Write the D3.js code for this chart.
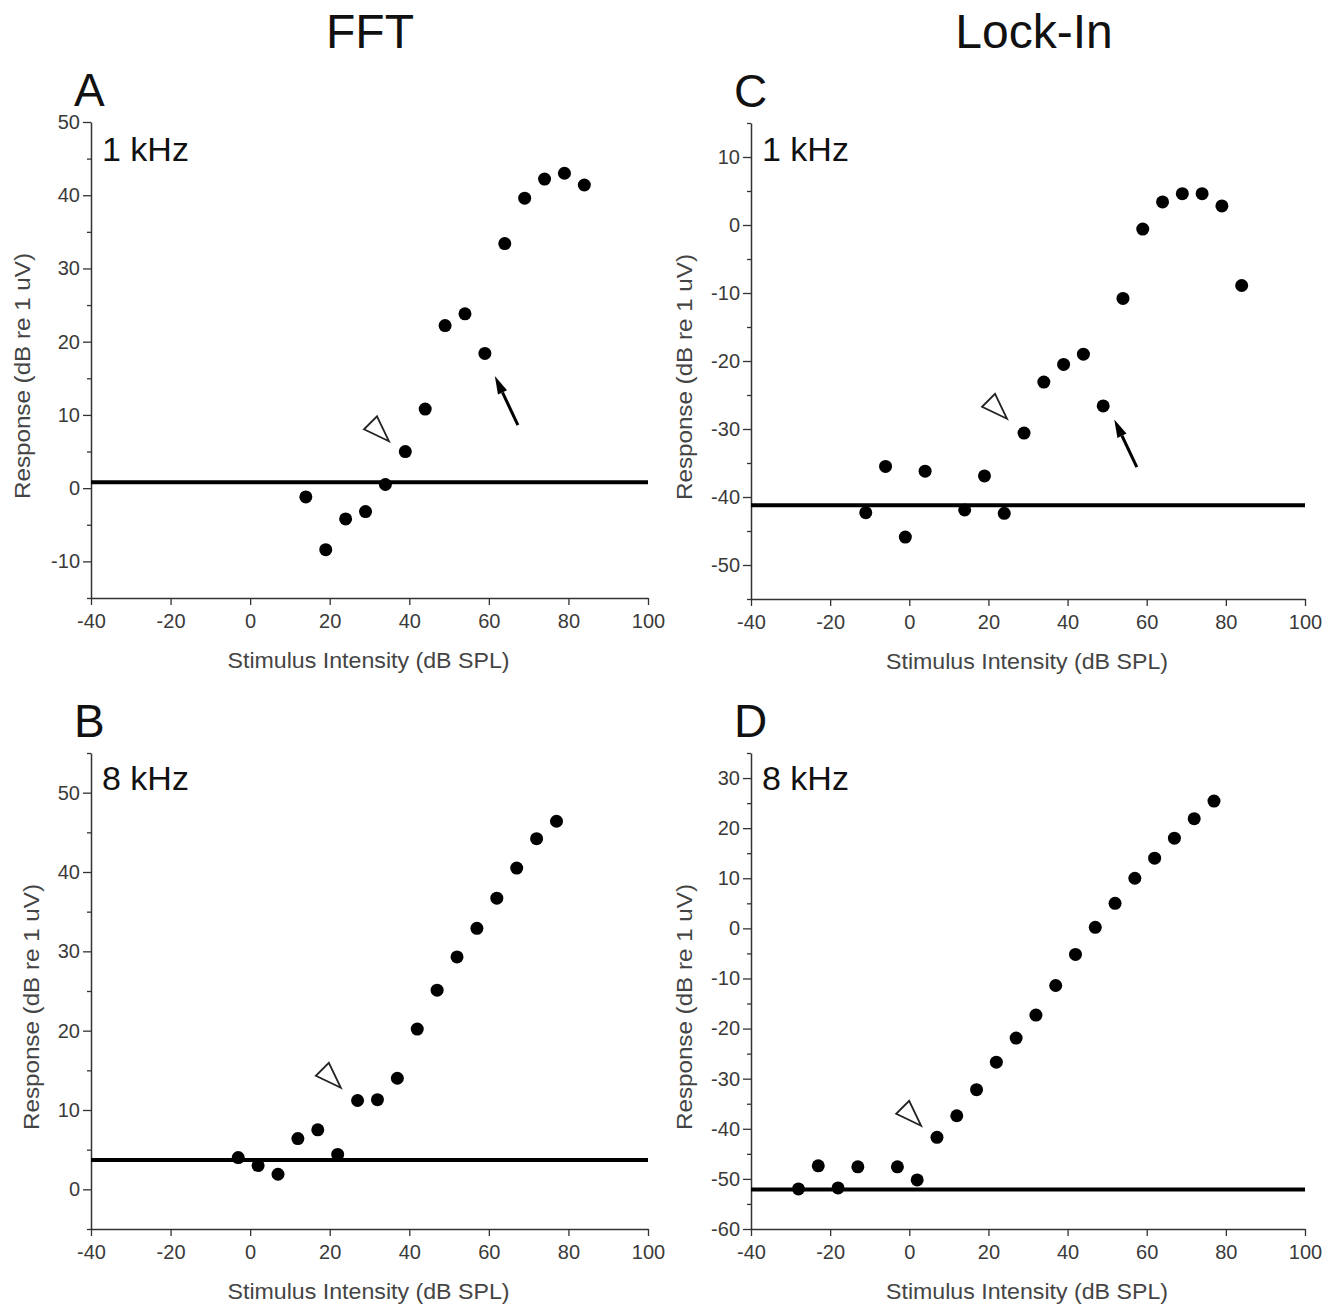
<!DOCTYPE html>
<html>
<head>
<meta charset="utf-8">
<script src="https://cdn.jsdelivr.net/npm/d3@7"></script>
<style>
  body { margin: 0; background: #fff; }
  svg { display: block; font-family: "Liberation Sans", Arial, sans-serif; }
</style>
</head>
<body>
<div id="chart"></div>
<script>
// ---- data ----
const xTicks = [-40, -20, 0, 20, 40, 60, 80, 100];

// A: FFT, 1 kHz
const fft1kX = [14, 19, 24, 29, 34, 39, 44, 49, 54, 59, 64, 69, 74, 79, 84];
const fft1kY = [-1.2, -8.4, -4.2, -3.2, 0.5, 5.0, 10.8, 22.2, 23.8, 18.4, 33.4, 39.6, 42.2, 43.0, 41.4];
// B: FFT, 8 kHz
const fft8kX = [-3, 2, 7, 12, 17, 22, 27, 32, 37, 42, 47, 52, 57, 62, 67, 72, 77];
const fft8kY = [4.0, 3.0, 1.9, 6.4, 7.5, 4.4, 11.2, 11.3, 14.0, 20.2, 25.1, 29.3, 32.9, 36.7, 40.5, 44.2, 46.4];
// C: Lock-In, 1 kHz
const lock1kX = [-11, -6, -1, 4, 14, 19, 24, 29, 34, 39, 44, 49, 54, 59, 64, 69, 74, 79, 84];
const lock1kY = [-42.3, -35.5, -45.9, -36.2, -41.9, -36.9, -42.4, -30.6, -23.1, -20.5, -19.0, -26.6, -10.8, -0.6, 3.4, 4.6, 4.6, 2.8, -8.9];
// D: Lock-In, 8 kHz
const lock8kX = [-28, -23, -18, -13, -3, 2, 7, 12, 17, 22, 27, 32, 37, 42, 47, 52, 57, 62, 67, 72, 77];
const lock8kY = [-52.0, -47.4, -51.8, -47.6, -47.6, -50.2, -41.7, -37.4, -32.2, -26.7, -21.9, -17.3, -11.4, -5.2, 0.2, 5.0, 10.0, 14.0, 18.0, 21.9, 25.4];

// noise floor (horizontal line) per panel A, B, C, D
const noiseFloor = [0.8, 3.7, -41.2, -52.1];
// y domains per panel
const yDomains = [[-15, 50], [-5, 55], [-55, 15], [-60, 35]];
const yMajorTicks = [
  [-10, 0, 10, 20, 30, 40, 50],
  [0, 10, 20, 30, 40, 50],
  [-50, -40, -30, -20, -10, 0, 10],
  [-60, -50, -40, -30, -20, -10, 0, 10, 20, 30]
];
// open triangle tip (x, y in data units)
const triangleTips = [[34.9, 6.4], [22.8, 12.8], [24.7, -28.5], [3.0, -39.4]];
// arrows [tailX, tailY, tipX, tipY], only in the 1 kHz panels
const arrows = [[67.3, 8.6, 61.5, 15.3], null, [57.5, -35.6, 51.8, -28.6], null];

const letters = ["A", "B", "C", "D"];
const freqs = ["1 kHz", "8 kHz", "1 kHz", "8 kHz"];
const columnTitles = ["FFT", "Lock-In"];

// ---- layout ----
const width = 1343, height = 1305;
const boxes = [
  { x0: 91, x1: 648, y0: 122, y1: 598 },
  { x0: 91, x1: 648, y0: 753, y1: 1229 },
  { x0: 751, x1: 1305, y0: 123, y1: 599 },
  { x0: 751, x1: 1305, y0: 753, y1: 1229 }
];
const yLabelX = [22, 31, 684, 684];
const series = [[fft1kX, fft1kY], [fft8kX, fft8kY], [lock1kX, lock1kY], [lock8kX, lock8kY]];
const plain = d => String(d); // hyphen minus, as in the original

const svg = d3.select('#chart').append('svg')
  .attr('width', width)
  .attr('height', height);

svg.append('rect').attr('width', width).attr('height', height).attr('fill', '#fff');

// column titles
svg.selectAll('.coltitle')
  .data(columnTitles)
  .enter()
  .append('text')
  .attr('class', 'coltitle')
  .attr('x', (d, i) => i === 0 ? 370 : 1034)
  .attr('y', 48)
  .attr('text-anchor', 'middle')
  .style('font-size', '48px')
  .style('fill', '#111')
  .text(d => d);

boxes.forEach((b, p) => {
  const x = d3.scaleLinear().domain([-40, 100]).range([b.x0, b.x1]);
  const y = d3.scaleLinear().domain(yDomains[p]).range([b.y1, b.y0]);
  const g = svg.append('g');

  // minor y ticks (every 5)
  const minor = d3.range(yDomains[p][0], yDomains[p][1] + 0.1, 5)
    .filter(v => yMajorTicks[p].indexOf(v) < 0);
  g.append('g')
    .attr('transform', `translate(${b.x0},0)`)
    .call(d3.axisLeft(y).tickValues(minor).tickSize(4).tickFormat(''))
    .call(a => a.select('.domain').remove())
    .call(a => a.selectAll('line').attr('stroke', '#333').attr('stroke-width', 1.3));

  // y axis
  g.append('g')
    .attr('transform', `translate(${b.x0},0)`)
    .call(d3.axisLeft(y).tickValues(yMajorTicks[p]).tickFormat(plain)
      .tickSize(8).tickSizeOuter(0).tickPadding(3))
    .call(a => a.select('.domain').attr('stroke', '#333').attr('stroke-width', 1.5))
    .call(a => a.selectAll('line').attr('stroke', '#333').attr('stroke-width', 1.3))
    .call(a => a.selectAll('text').style('font-size', '20px').style('fill', '#3a3a3a')
      .style('font-family', '"Liberation Sans", Arial, sans-serif'));

  // x axis
  g.append('g')
    .attr('transform', `translate(0,${b.y1})`)
    .call(d3.axisBottom(x).tickValues(xTicks).tickFormat(plain)
      .tickSize(7).tickSizeOuter(0).tickPadding(9))
    .call(a => a.select('.domain').attr('stroke', '#333').attr('stroke-width', 1.5))
    .call(a => a.selectAll('line').attr('stroke', '#333').attr('stroke-width', 1.3))
    .call(a => a.selectAll('text').style('font-size', '20px').style('fill', '#3a3a3a')
      .style('font-family', '"Liberation Sans", Arial, sans-serif'));

  // axis titles
  g.append('text')
    .attr('x', (b.x0 + b.x1) / 2 - 1)
    .attr('y', b.y1 + 70)
    .attr('text-anchor', 'middle')
    .attr('textLength', 282)
    .attr('lengthAdjust', 'spacingAndGlyphs')
    .style('font-size', '22px')
    .style('fill', '#444')
    .text('Stimulus Intensity (dB SPL)');

  const ylc = (b.y0 + b.y1) / 2 + 16;
  g.append('text')
    .attr('transform', `translate(${yLabelX[p]},${ylc}) rotate(-90)`)
    .attr('dy', '0.35em')
    .attr('text-anchor', 'middle')
    .attr('textLength', 246)
    .attr('lengthAdjust', 'spacingAndGlyphs')
    .style('font-size', '22px')
    .style('fill', '#444')
    .text('Response (dB re 1 uV)');

  // panel letter and frequency
  g.append('text')
    .attr('x', b.x0 - 17)
    .attr('y', b.y0 - 16)
    .style('font-size', '46px')
    .style('fill', '#111')
    .text(letters[p]);

  g.append('text')
    .attr('x', b.x0 + 11)
    .attr('y', p % 2 === 0 ? 161 : 790)
    .style('font-size', '34px')
    .style('fill', '#111')
    .text(freqs[p]);

  // noise floor
  g.append('line')
    .attr('x1', b.x0).attr('x2', b.x1)
    .attr('y1', y(noiseFloor[p])).attr('y2', y(noiseFloor[p]))
    .attr('stroke', '#000')
    .attr('stroke-width', 4);

  // points
  const pts = series[p][0].map((v, i) => ({ x: v, y: series[p][1][i] }));
  g.selectAll('circle')
    .data(pts)
    .enter()
    .append('circle')
    .attr('cx', d => x(d.x))
    .attr('cy', d => y(d.y))
    .attr('r', 6.5)
    .attr('fill', '#000');

  // open triangle, tip pointing down-right
  const tt = triangleTips[p];
  g.append('path')
    .attr('transform', `translate(${x(tt[0])},${y(tt[1])})`)
    .attr('d', 'M0,0 L-25,-12 L-12,-25 Z')
    .attr('fill', '#fff')
    .attr('stroke', '#222')
    .attr('stroke-width', 1.8)
    .attr('stroke-linejoin', 'miter');

  // arrow
  const ar = arrows[p];
  if (ar) {
    const x1 = x(ar[0]), y1 = y(ar[1]), x2 = x(ar[2]), y2 = y(ar[3]);
    const ang = Math.atan2(y2 - y1, x2 - x1);
    const headLen = 18, headW = 5;
    const bx = x2 - headLen * Math.cos(ang), by = y2 - headLen * Math.sin(ang);
    g.append('line')
      .attr('x1', x1).attr('y1', y1)
      .attr('x2', bx).attr('y2', by)
      .attr('stroke', '#000')
      .attr('stroke-width', 3);
    g.append('path')
      .attr('d', `M${x2},${y2} L${bx + headW * Math.sin(ang)},${by - headW * Math.cos(ang)} L${bx - headW * Math.sin(ang)},${by + headW * Math.cos(ang)} Z`)
      .attr('fill', '#000');
  }
});
</script>
</body>
</html>
